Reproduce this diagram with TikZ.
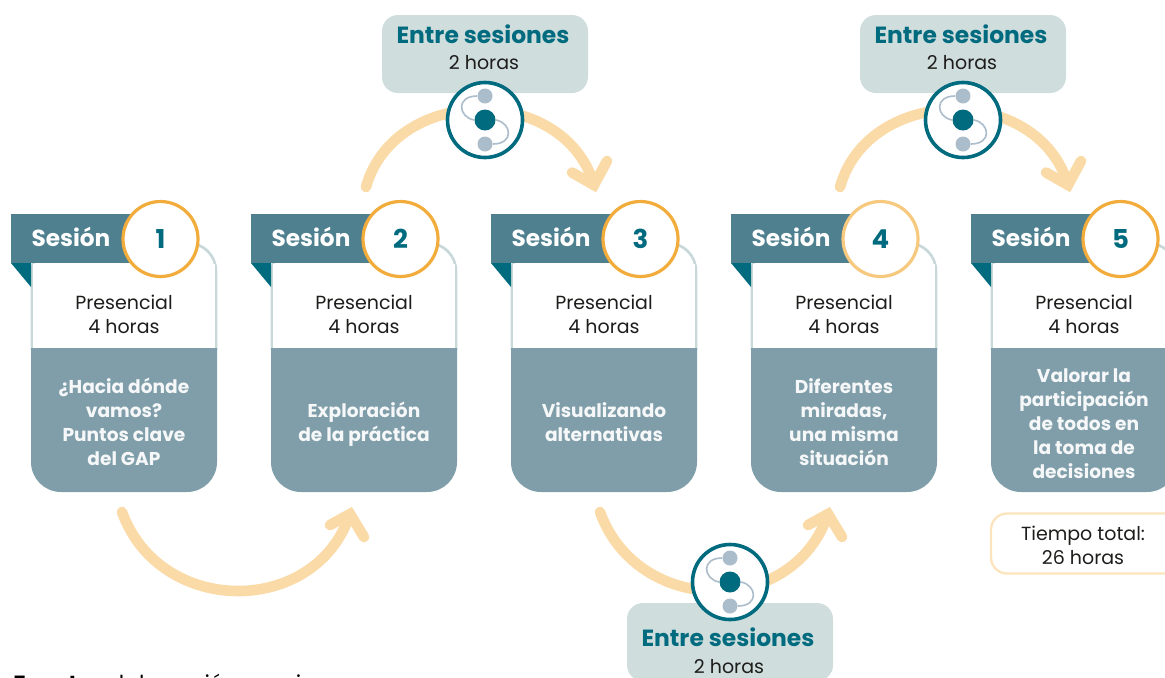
\documentclass[tikz,border=0pt]{standalone}
\usepackage{fontspec}
\setmainfont{Poppins}
\usetikzlibrary{positioning}
\definecolor{tealosc}{HTML}{006B7F}
\definecolor{tealmed}{HTML}{4F808F}
\definecolor{grisazul}{HTML}{7F9EA9}
\definecolor{grisclaro}{HTML}{D0DDDD}
\definecolor{borde}{HTML}{C8D7D8}
\definecolor{punto}{HTML}{ABBCCB}
\definecolor{naranja}{HTML}{F2AC3C}
\definecolor{naranjab}{HTML}{F6C97F}
\definecolor{flechac}{HTML}{FADBA8}
\definecolor{textoc}{HTML}{1D1D1B}
\tikzset{
  flecha/.style={line width=5.3pt,flechac,line cap=round,line join=miter,miter limit=10},
  titulo/.style={font=\fontsize{11.6}{13}\selectfont\bfseries,text=white},
  numero/.style={circle,draw=#1,line width=1.6pt,fill=white,minimum size=37.5pt,inner sep=0pt,
    font=\fontsize{13}{15}\selectfont\bfseries,text=tealosc},
  modo/.style={font=\fontsize{9.5}{12}\selectfont,text=textoc,align=center},
  tema/.style={font=\fontsize{9.3}{12}\selectfont\bfseries,text=white!92!grisazul,align=center},
  entre/.style={fill=grisclaro,rounded corners=8pt,minimum width=103pt,minimum height=39pt,inner sep=0pt},
  entret/.style={font=\fontsize{11.7}{14}\selectfont\bfseries,text=tealosc},
  anillo/.style={circle,draw=tealosc,line width=1.8pt,fill=white,minimum size=37.5pt,inner sep=0pt},
  puntito/.style={circle,fill=punto,minimum size=7.5pt,inner sep=0pt},
  puntoc/.style={circle,fill=tealosc,minimum size=10.5pt,inner sep=0pt},
  enlace/.style={draw=punto,line width=0.8pt},
}
% icono: nombre, x, y
\newcommand{\icono}[3]{
  \node[anillo] (#1) at (#2,#3) {};
  \node[puntoc] (#1c) at (#1) {};
  \node[puntito,above=12pt of #1c.center,anchor=center] (#1a) {};
  \node[puntito,below=12pt of #1c.center,anchor=center] (#1b) {};
  \draw[enlace] (#1a.west) .. controls +(-10.7pt,0pt) and +(-8pt,1.5pt) .. (#1c.west);
  \draw[enlace] (#1b.east) .. controls +(10.7pt,0pt) and +(8pt,-1.5pt) .. (#1c.east);
}
\begin{document}
\begin{tikzpicture}[x=0.5pt,y=-0.5pt]
  \useasboundingbox (0,0) rectangle (1165,677) ;
  \clip (0,0) rectangle (1165,677) ;

  % sesiones
  \foreach \n/\desp/\anill/\ytema/\txt in {
    1/0/naranja/422/{¿Hacia dónde\\vamos?\\Puntos clave\\del GAP},
    2/240/naranja/424/{Exploración\\de la práctica},
    3/480/naranja/422/{Visualizando\\alternativas},
    4/720/naranjab/422/{Diferentes\\miradas,\\una misma\\situación},
    5/960/naranja/424/{Valorar la\\participación\\de todos en\\la toma de\\decisiones}} {
    \begin{scope}[xshift=\desp*0.5pt]
      \draw[borde,line width=1.3pt,rounded corners=14pt] (32,350) -- (32,243) -- (216,243) -- (216,350) ;
      \fill[white] (33,264) rectangle (215,348) ;
      \fill[grisazul] (31,348) [rounded corners=15pt] -- (31,492) -- (217,492) [sharp corners] -- (217,348) -- cycle ;
      \fill[tealmed] (11,214) rectangle (135,263) ;
      \fill[tealosc] (11,263) -- (31,263) -- (31,287) -- cycle ;
      \node[titulo] (tit\n) at (71,237) {Sesión} ;
      \node[numero=\anill] (num\n) at (160.5,239) {\n} ;
      \node[modo] (modo\n) at (124,314) {Presencial\\4 horas} ;
      \node[tema] (tema\n) at (124,\ytema) {\txt} ;
    \end{scope}
  }

  % flechas de abajo
  \foreach \k/\desp in {1/0,2/478} {
    \begin{scope}[xshift=\desp*0.5pt]
      \coordinate (ini\k) at (122,512) ;
      \coordinate (pun\k) at (350,514) ;
      \coordinate (ala\k) at (330,525) ;
      \coordinate (alb\k) at (364,537) ;
      \draw[flecha] (ini\k) .. controls (160,617) and (316,617) .. (pun\k) ;
      \draw[flecha] (ala\k) -- (pun\k) -- (alb\k) ;
    \end{scope}
  }
  % flechas de arriba
  \foreach \k/\desp in {3/0,4/474} {
    \begin{scope}[xshift=\desp*0.5pt]
      \coordinate (ini\k) at (366,187) ;
      \coordinate (pun\k) at (594,185) ;
      \coordinate (ala\k) at (572,172.5) ;
      \coordinate (alb\k) at (607,161) ;
      \draw[flecha] (ini\k) .. controls (395,84) and (565,84) .. (pun\k) ;
      \draw[flecha] (ala\k) -- (pun\k) -- (alb\k) ;
    \end{scope}
  }

  % entre sesiones
  \foreach \k/\px/\py/\pt/\ph in {1/485/54/34/63,2/963/54/34/63,3/730/642/637/667} {
    \node[entre] (entre\k) at (\px,\py) {} ;
    \node[entret] (entret\k) at (\px-2,\pt) {Entre sesiones} ;
    \node[modo] (entreh\k) at (\px-1,\ph) {2 horas} ;
  }
  \icono{ic1}{485}{120}
  \icono{ic2}{963}{120}
  \icono{ic3}{730}{582}

  % total
  \node[draw=flechac!75,line width=1.2pt,rounded corners=8pt,minimum width=100pt,minimum height=30pt,
    inner sep=0pt] (caja) at (1091,543.5) {} ;
  \node[modo] (total) at (1083,545) {Tiempo total:\\26 horas} ;

  \node[anchor=base west,inner sep=0pt,font=\fontsize{11}{13}\selectfont,text=black] (fuente) at (13,691)
    {\textbf{Fuente:} elaboración propia} ;
\end{tikzpicture}
\end{document}
